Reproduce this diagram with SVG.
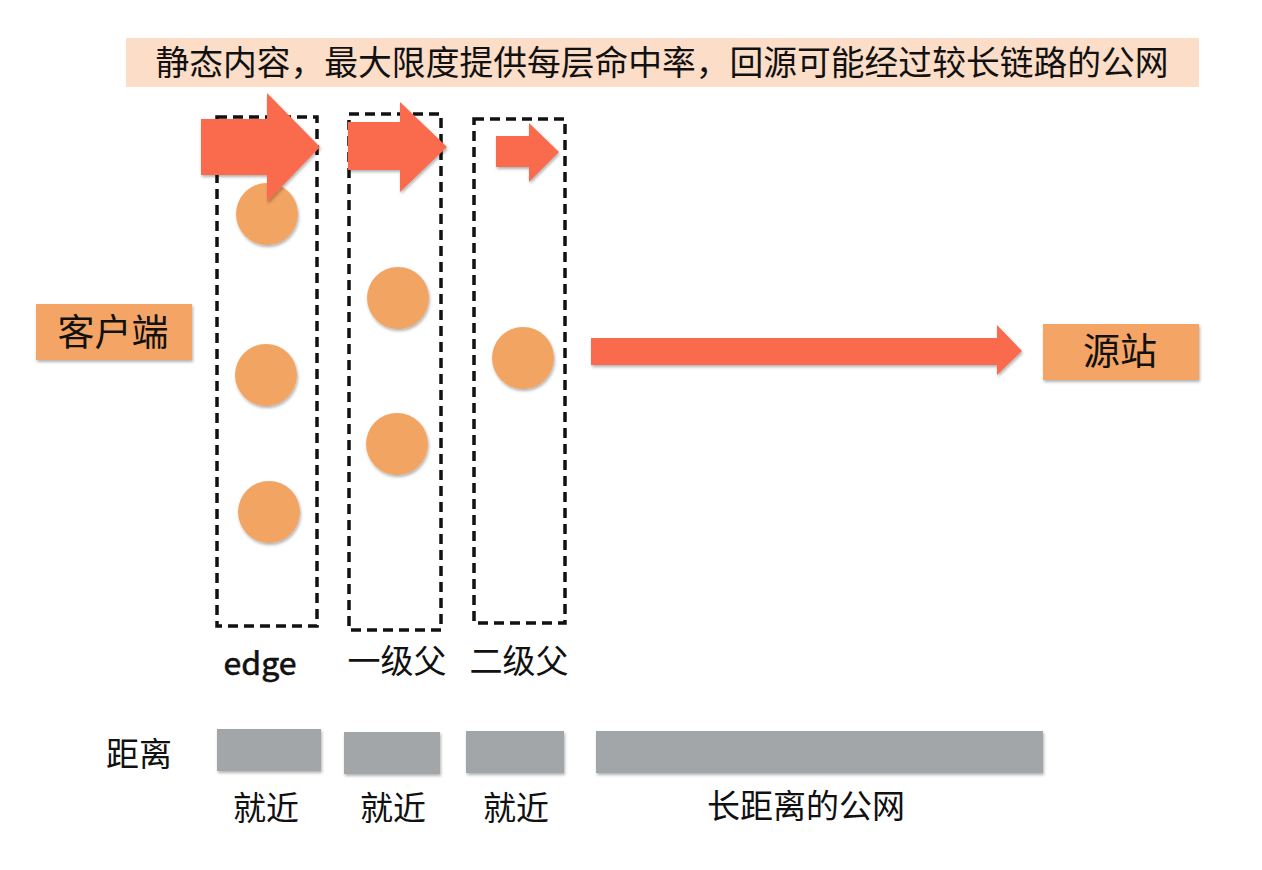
<svg xmlns="http://www.w3.org/2000/svg" width="1262" height="870" viewBox="0 0 1262 870">
<defs>
<filter id="sh" x="-10%" y="-10%" width="130%" height="140%">
<feDropShadow dx="1" dy="2" stdDeviation="1.5" flood-color="#000" flood-opacity="0.3"/>
</filter>
<style>
.t{font-family:"Noto Sans CJK SC","Noto Sans",sans-serif;fill:#111;}
.box{fill:#F4A465;filter:url(#sh);}
.dash{fill:none;stroke:#111;stroke-width:3.5;stroke-dasharray:10 6;}
.arr{fill:#FA6A4E;filter:url(#sh);}
.dot{fill:#F2A464;filter:url(#sh);}
.bar{fill:#A3A6A9;filter:url(#sh);}
</style>
</defs>
<rect width="1262" height="870" fill="#fff"/>
<g id="banner">
<rect x="126" y="38" width="1073" height="49" fill="#FBDDC8"/>
<text class="t" x="662" y="75" font-size="34" text-anchor="middle" textLength="1013" lengthAdjust="spacingAndGlyphs">静态内容，最大限度提供每层命中率，回源可能经过较长链路的公网</text>
</g>
<g id="client">
<rect class="box" x="36" y="304" width="156" height="56"/>
<text class="t" x="113" y="346" font-size="37" text-anchor="middle">客户端</text>
</g>
<g id="origin">
<rect class="box" x="1043" y="324" width="156" height="56"/>
<text class="t" x="1120" y="365" font-size="37" text-anchor="middle">源站</text>
</g>
<g id="edge">
<rect class="dash" x="217" y="117" width="100" height="509"/>
<circle class="dot" cx="267" cy="214" r="31"/>
<circle class="dot" cx="266" cy="375" r="31"/>
<circle class="dot" cx="269" cy="512" r="31"/>
<text class="t" x="260" y="675" font-size="32" stroke="#111" stroke-width="0.6" text-anchor="middle">edge</text>
</g>
<g id="parent1">
<rect class="dash" x="349" y="114" width="92" height="516"/>
<circle class="dot" cx="398" cy="298" r="31"/>
<circle class="dot" cx="397" cy="444" r="31"/>
<text class="t" x="397" y="673" font-size="33" text-anchor="middle">一级父</text>
</g>
<g id="parent2">
<rect class="dash" x="474" y="119" width="91" height="504"/>
<circle class="dot" cx="523" cy="358" r="31"/>
<text class="t" x="519" y="673" font-size="33" text-anchor="middle">二级父</text>
</g>
<g id="connectors">
<polygon class="arr" points="201,119 267,119 267,93 320,147 267,202 267,175 201,175"/>
<polygon class="arr" points="348,122 400,122 400,102 447,147 400,192 400,170 348,170"/>
<polygon class="arr" points="496,136 529,136 529,123 559,152 529,182 529,167 496,167"/>
<polygon class="arr" points="591,338 997,338 997,325 1022,351 997,375 997,365 591,365"/>
</g>
<g id="distance">
<text class="t" x="139" y="766" font-size="33" text-anchor="middle">距离</text>
<rect class="bar" x="217" y="729" width="104" height="42"/>
<rect class="bar" x="344" y="732" width="96" height="42"/>
<rect class="bar" x="466" y="731" width="98" height="42"/>
<rect class="bar" x="596" y="731" width="447" height="42"/>
<text class="t" x="266" y="820" font-size="33" text-anchor="middle">就近</text>
<text class="t" x="393" y="820" font-size="33" text-anchor="middle">就近</text>
<text class="t" x="516" y="820" font-size="33" text-anchor="middle">就近</text>
<text class="t" x="806" y="818" font-size="33" text-anchor="middle">长距离的公网</text>
</g>
</svg>
